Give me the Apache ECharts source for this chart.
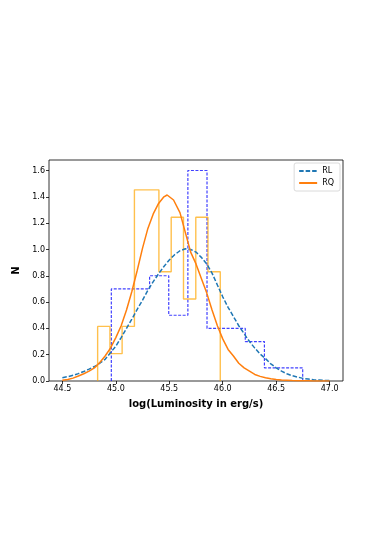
<!DOCTYPE html>
<html>
<head>
<meta charset="utf-8">
<script src="https://cdn.jsdelivr.net/npm/echarts@6/dist/echarts.min.js"></script>
<style>
html,body{margin:0;padding:0;background:#fff;}
#chart{width:381px;height:539px;}
</style>
</head>
<body>
<div id="chart"></div>
<script>
// Histogram bin edges and heights (density)
var rlEdges = [44.958, 45.137, 45.316, 45.495, 45.674, 45.853, 46.032, 46.211, 46.390, 46.569, 46.748];
var rlHeights = [0.7, 0.7, 0.8, 0.5, 1.6, 0.4, 0.4, 0.3, 0.1, 0.1];
var rqEdges = [44.830, 44.945, 45.059, 45.174, 45.289, 45.403, 45.518, 45.633, 45.748, 45.862, 45.977];
var rqHeights = [0.415, 0.208, 0.415, 1.453, 1.453, 0.830, 1.245, 0.623, 1.245, 0.830];

// Fitted curves
var rlX = [44.50,44.55,44.60,44.65,44.70,44.75,44.80,44.85,44.90,44.95,45.00,45.05,45.10,45.15,45.20,45.25,45.30,45.35,45.40,45.45,45.50,45.55,45.60,45.65,45.70,45.75,45.80,45.85,45.90,45.95,46.00,46.05,46.10,46.15,46.20,46.25,46.30,46.35,46.40,46.45,46.50,46.55,46.60,46.65,46.70,46.75,46.80,46.85,46.90,46.95,47.00];
var rlY = [0.025,0.033,0.043,0.056,0.072,0.09,0.11,0.135,0.165,0.215,0.265,0.33,0.40,0.47,0.545,0.615,0.69,0.755,0.815,0.87,0.92,0.96,0.99,1.005,1.00,0.98,0.94,0.89,0.82,0.73,0.64,0.56,0.49,0.42,0.36,0.30,0.25,0.205,0.17,0.13,0.10,0.075,0.055,0.04,0.03,0.02,0.015,0.01,0.007,0.004,0.003];
var rqX = [44.50,44.55,44.60,44.65,44.70,44.75,44.80,44.85,44.90,44.95,45.00,45.05,45.10,45.15,45.20,45.25,45.30,45.35,45.40,45.45,45.48,45.54,45.60,45.65,45.70,45.75,45.80,45.85,45.90,45.95,46.00,46.05,46.10,46.15,46.20,46.25,46.30,46.35,46.40,46.45,46.50,46.55,46.60,46.65,46.70,46.75,46.80,46.85,46.90,46.95,47.00];
var rqY = [0.005,0.012,0.022,0.038,0.055,0.075,0.10,0.14,0.19,0.25,0.33,0.42,0.54,0.68,0.84,1.01,1.16,1.27,1.35,1.40,1.414,1.376,1.28,1.13,0.98,0.89,0.78,0.67,0.54,0.42,0.32,0.24,0.19,0.135,0.10,0.075,0.05,0.035,0.025,0.017,0.011,0.007,0.005,0.003,0.002,0.001,0.001,0,0,0,0];

var xTicks = [44.5, 45.0, 45.5, 46.0, 46.5, 47.0];
var yTicks = [0, 0.2, 0.4, 0.6, 0.8, 1.0, 1.2, 1.4, 1.6];
var seriesNames = ['RL', 'RQ'];
var xLabel = 'log(Luminosity in erg/s)';
var yLabel = 'N';

function stepOutline(edges, h) {
  var pts = [[edges[0], 0]];
  for (var i = 0; i < h.length; i++) {
    pts.push([edges[i], h[i]]);
    pts.push([edges[i + 1], h[i]]);
  }
  pts.push([edges[edges.length - 1], 0]);
  return pts;
}
function pairs(xs, ys) { return xs.map(function (x, i) { return [x, ys[i]]; }); }

var chart = echarts.init(document.getElementById('chart'), null, {renderer: 'canvas'});
var font = 'DejaVu Sans';
chart.setOption({
  animation: false,
  backgroundColor: '#fff',
  grid: {left: 49, right: 38, top: 160, bottom: 158, show: true, borderColor: '#000', borderWidth: 0.8, backgroundColor: 'transparent'},
  xAxis: {
    type: 'value', min: 44.375, max: 47.125,
    name: xLabel, nameLocation: 'middle', nameGap: 18,
    nameTextStyle: {fontFamily: font, fontSize: 10, fontWeight: 'bold', color: '#000'},
    axisLine: {show: false},
    splitLine: {show: false},
    axisTick: {show: true, length: 3, lineStyle: {color: '#000', width: 0.8}, customValues: xTicks},
    axisLabel: {fontFamily: font, fontSize: 8, color: '#000', margin: 4, customValues: xTicks,
      formatter: function (v) { return v.toFixed(1); }}
  },
  yAxis: {
    type: 'value', min: 0, max: 1.68,
    name: yLabel, nameLocation: 'middle', nameGap: 24, nameRotate: 90,
    nameTextStyle: {fontFamily: font, fontSize: 10, fontWeight: 'bold', color: '#000'},
    axisLine: {show: false},
    splitLine: {show: false},
    axisTick: {show: true, length: 3, lineStyle: {color: '#000', width: 0.8}, customValues: yTicks},
    axisLabel: {fontFamily: font, fontSize: 8, color: '#000', margin: 4, customValues: yTicks,
      formatter: function (v) { return v.toFixed(1); }}
  },
  legend: {
    data: seriesNames,
    orient: 'vertical', right: 41, top: 163,
    backgroundColor: 'rgba(255,255,255,0.8)',
    borderColor: '#d0d0d0', borderWidth: 0.8, borderRadius: 2,
    padding: [4, 6, 4, 4], itemGap: 4, itemWidth: 18, itemHeight: 6,
    itemStyle: {opacity: 0},
    textStyle: {fontFamily: font, fontSize: 8, color: '#000'}
  },
  series: [
    {name: 'RL hist', type: 'line', data: stepOutline(rlEdges, rlHeights), symbol: 'none', silent: true,
      lineStyle: {color: 'rgba(0,0,255,0.75)', width: 1.2, type: [3, 1.5]}, z: 2},
    {name: 'RQ hist', type: 'line', data: stepOutline(rqEdges, rqHeights), symbol: 'none', silent: true,
      lineStyle: {color: 'rgba(255,165,0,0.7)', width: 1.4}, z: 2},
    {name: 'RL', type: 'line', data: pairs(rlX, rlY), symbol: 'none', smooth: false,
      itemStyle: {color: '#1f77b4'},
      lineStyle: {color: '#1f77b4', width: 1.5, type: [4.5, 2]}, z: 3},
    {name: 'RQ', type: 'line', data: pairs(rqX, rqY), symbol: 'none', smooth: false,
      itemStyle: {color: '#ff7f0e'},
      lineStyle: {color: '#ff7f0e', width: 1.5}, z: 3}
  ]
});
</script>
</body>
</html>
